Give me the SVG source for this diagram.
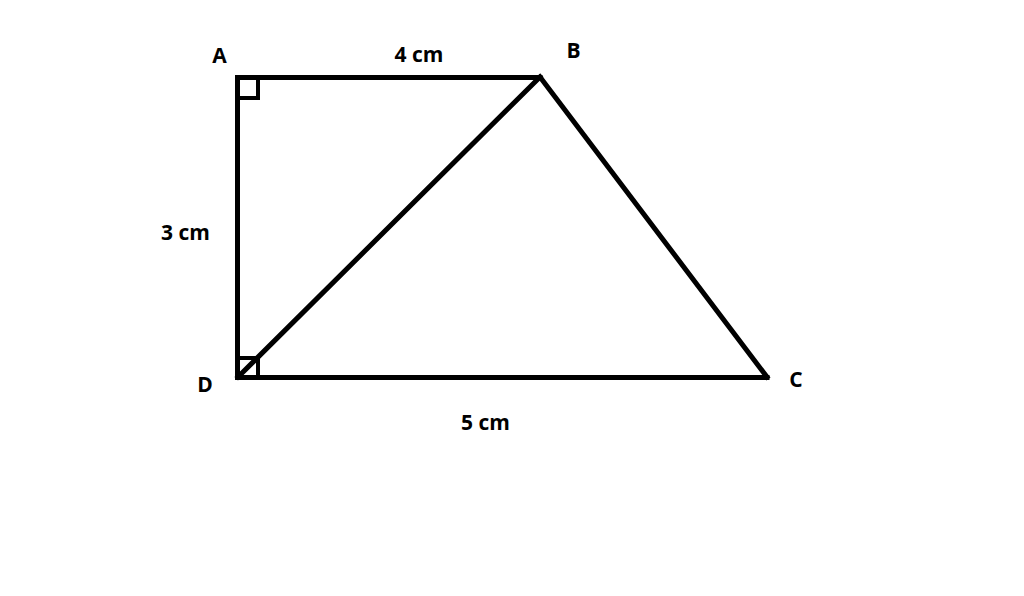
<svg xmlns="http://www.w3.org/2000/svg" width="1024" height="596" viewBox="0 0 1024 596">
<style>
.ln{stroke:#000;stroke-width:5;fill:none;stroke-linecap:square;stroke-linejoin:miter}
.sq{stroke:#000;stroke-width:4;fill:none}
text{font-family:"Open Sans","Liberation Sans",sans-serif;font-weight:bold;font-size:21px;fill:#000;text-anchor:middle}
</style>
<rect width="1024" height="596" fill="#fff"/>
<g id="connectors">
<line class="ln" x1="237.5" y1="77.5" x2="540" y2="77.5"/>
<line class="ln" x1="237.5" y1="77.5" x2="237.5" y2="377.5"/>
<line class="ln" x1="237.5" y1="377.5" x2="767" y2="377.5"/>
<line class="ln" x1="238" y1="377" x2="540" y2="77"/>
<line class="ln" x1="540" y1="77" x2="767" y2="377"/>
<text x="419" y="62">4 cm</text>
<text x="185.5" y="240">3 cm</text>
<text x="485.5" y="430">5 cm</text>
</g>
<g id="A">
<rect class="sq" x="237.5" y="77.5" width="20.5" height="20.5"/>
<text x="219.5" y="63">A</text>
</g>
<g id="B">
<text x="573.5" y="58">B</text>
</g>
<g id="C">
<text x="796" y="387">C</text>
</g>
<g id="D">
<rect class="sq" x="237.5" y="358" width="20.5" height="19.5"/>
<text x="205" y="392">D</text>
</g>
</svg>
